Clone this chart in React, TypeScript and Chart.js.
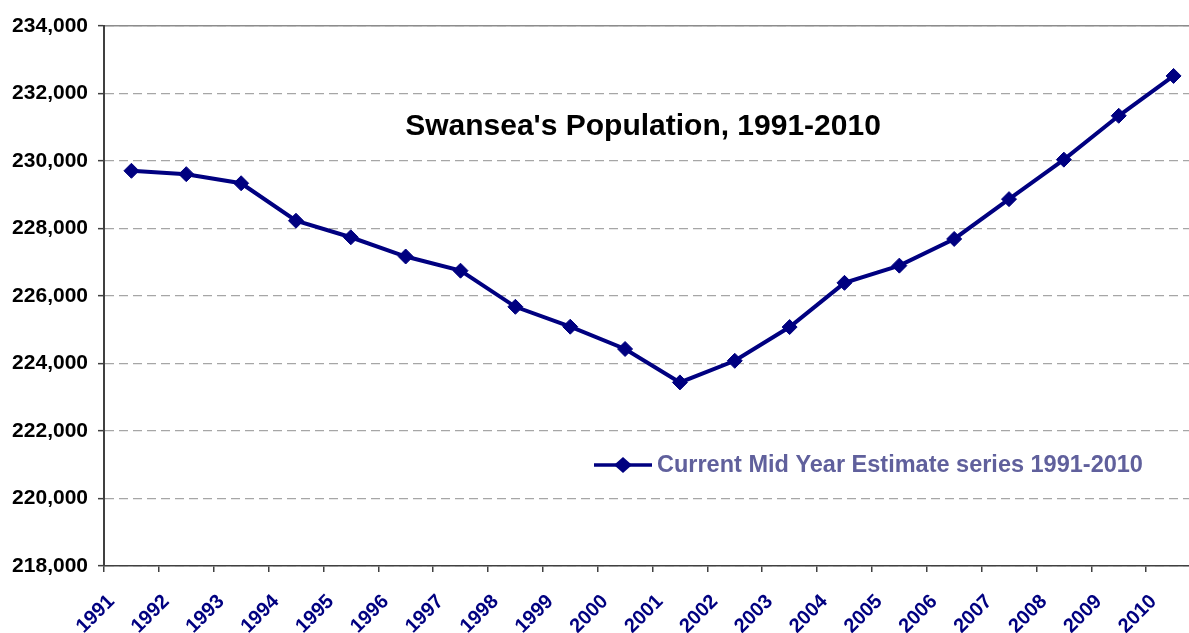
import React, { useEffect, useRef } from "react";
import { Chart, registerables } from "chart.js";

Chart.register(...registerables);

const categories = [
  "1991", "1992", "1993", "1994", "1995", "1996", "1997", "1998", "1999", "2000",
  "2001", "2002", "2003", "2004", "2005", "2006", "2007", "2008", "2009", "2010",
];
const population = [
  229710, 229610, 229340, 228230, 227740, 227170, 226750, 225680, 225090, 224430,
  223440, 224080, 225080, 226390, 226900, 227690, 228870, 230040, 231340, 232520,
];
const yTicks = [218000, 220000, 222000, 224000, 226000, 228000, 230000, 232000, 234000];
const chartTitle = "Swansea's Population, 1991-2010";
const seriesLabel = "Current Mid Year Estimate series 1991-2010";

const NAVY = "#000080";
const FONT = "'Liberation Sans', Arial, Helvetica, sans-serif";

const overlayPlugin = {
  id: "overlay",
  afterDraw(chart: any) {
    const { ctx } = chart;
    ctx.save();
    // title
    ctx.font = `bold 30px ${FONT}`;
    ctx.fillStyle = "#000000";
    ctx.textAlign = "center";
    ctx.textBaseline = "alphabetic";
    ctx.fillText(chartTitle, 643, 134.5);
    // legend
    const ds = chart.data.datasets[0];
    const ly = 465;
    ctx.strokeStyle = ds.borderColor;
    ctx.lineWidth = 3.6;
    ctx.beginPath();
    ctx.moveTo(594, ly);
    ctx.lineTo(652, ly);
    ctx.stroke();
    ctx.fillStyle = ds.backgroundColor;
    ctx.beginPath();
    const rx = 9;
    const ry = 8;
    ctx.moveTo(623, ly - ry);
    ctx.lineTo(623 + rx, ly);
    ctx.lineTo(623, ly + ry);
    ctx.lineTo(623 - rx, ly);
    ctx.closePath();
    ctx.fill();
    ctx.font = `bold 23.5px ${FONT}`;
    ctx.fillStyle = "#60609c";
    ctx.textAlign = "left";
    ctx.fillText(ds.label, 657, 471.5);
    ctx.restore();
  },
};

export default function App() {
  const canvasRef = useRef<HTMLCanvasElement | null>(null);

  useEffect(() => {
    const canvas = canvasRef.current;
    if (!canvas) return;
    const chart = new Chart(canvas, {
      type: "line",
      data: {
        labels: categories,
        datasets: [
          {
            label: seriesLabel,
            data: population,
            borderColor: NAVY,
            backgroundColor: NAVY,
            borderWidth: 4,
            pointStyle: "rectRot",
            pointRadius: 7.5,
            pointHoverRadius: 7.5,
            pointBackgroundColor: NAVY,
            pointBorderColor: NAVY,
            pointBorderWidth: 1,
            tension: 0,
            fill: false,
          },
        ],
      },
      options: {
        responsive: false,
        animation: false,
        events: [],
        layout: { padding: { top: 26, right: 14, left: 0, bottom: 0 } },
        plugins: {
          legend: { display: false },
          tooltip: { enabled: false },
          title: { display: false },
        },
        scales: {
          x: {
            type: "category",
            position: "bottom",
            offset: true,
            grid: {
              display: true,
              offset: true,
              drawOnChartArea: false,
              drawTicks: true,
              tickLength: 6,
              color: "#404040",
              lineWidth: 1.5,
            },
            border: { display: true, color: "#404040", width: 1.5 },
            ticks: {
              color: NAVY,
              font: { family: FONT, size: 20, weight: "bold" },
              minRotation: 45,
              maxRotation: 45,
              autoSkip: false,
              labelOffset: -20,
              padding: 18,
            },
            afterFit: (s: any) => {
              s.height = 67;
            },
          },
          x2: {
            type: "category",
            position: "top",
            labels: categories,
            grid: { display: false, drawTicks: false },
            border: { display: true, color: "#8c8c8c", width: 1.5 },
            ticks: { display: false },
            afterFit: (s: any) => {
              s.height = 0;
            },
          },
          y: {
            type: "linear",
            min: yTicks[0],
            max: yTicks[yTicks.length - 1],
            afterBuildTicks: (s: any) => {
              s.ticks = yTicks.map((v) => ({ value: v }));
            },
            grid: {
              color: "#a6a6a6",
              lineWidth: 1.3,
              drawTicks: true,
              tickLength: 6,
              tickColor: "#404040",
              tickWidth: 1.5,
            },
            border: { display: true, color: "#404040", width: 2, dash: [9, 5] },
            ticks: {
              color: "#000000",
              font: { family: FONT, size: 21, weight: "bold" },
              padding: 10,
              callback: (v: any) => Number(v).toLocaleString("en-US"),
            },
            afterFit: (s: any) => {
              s.width = 104;
            },
          },
        },
      },
      plugins: [overlayPlugin],
    } as any);
    return () => chart.destroy();
  }, []);

  return (
    <div
      style={{
        position: "fixed",
        left: 0,
        top: 0,
        width: 1189,
        height: 633,
        overflow: "hidden",
        background: "#ffffff",
      }}
    >
      <canvas ref={canvasRef} width={1215} height={633} style={{ display: "block" }} />
    </div>
  );
}
